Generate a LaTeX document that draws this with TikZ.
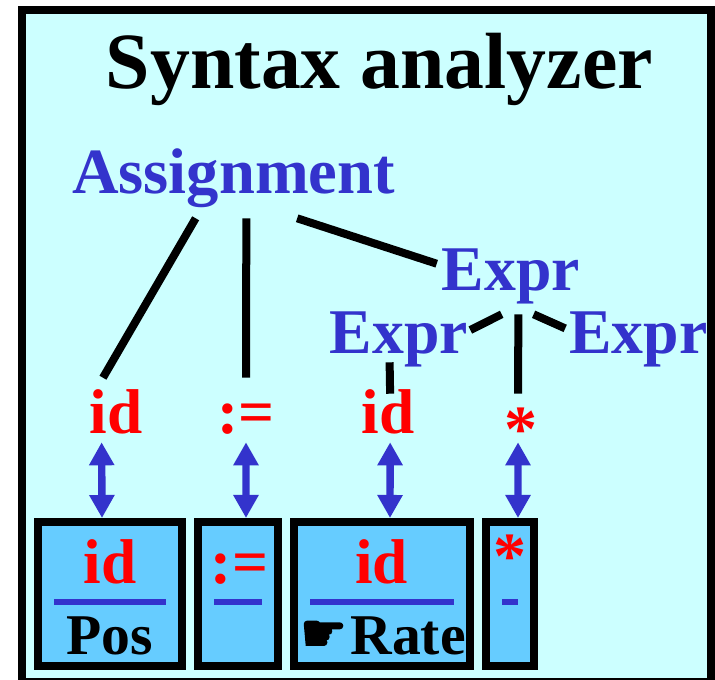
\documentclass[tikz,border=0pt]{standalone}
\usepackage{fontspec}
\setmainfont{Liberation Serif}
\newfontfamily\handfont[FakeBold=3]{DejaVu Sans}
\usepackage{xcolor}
\usepackage{tikz}
\usetikzlibrary{arrows.meta,positioning}
\definecolor{panelcyan}{HTML}{CCFFFF}
\definecolor{cellblue}{HTML}{66CCFF}
\definecolor{inkblue}{HTML}{3333CC}
\newcommand{\redfont}{\fontsize{45}{50}\selectfont\bfseries}

\begin{document}
\begin{tikzpicture}[
  x=0.025cm, y=-0.025cm,
  panel/.style={draw=black, fill=panelcyan, line width=0.2cm},
  heading/.style={anchor=base, inner sep=0pt, font=\fontsize{56.7}{60}\selectfont\bfseries},
  phrase/.style={anchor=base, inner ysep=0pt, text=inkblue, font=\fontsize{45.3}{50}\selectfont\bfseries},
  lexeme/.style={anchor=base, inner xsep=0pt, inner ysep=0pt, text=red, text depth=0.225cm, font=\redfont},
  cell/.style={draw=black, fill=cellblue, line width=0.2cm, minimum height=3.6cm, inner sep=0pt},
  celltext/.style={anchor=base, inner sep=0pt, font=\fontsize{41}{45}\selectfont\bfseries},
  redtext/.style={celltext, text=red, font=\redfont},
  bar/.style={fill=inkblue, minimum height=0.15cm, inner sep=0pt},
  edge/.style={line width=0.2cm},
  link/.style={{Triangle[length=0.575cm,width=0.6cm]}-{Triangle[length=0.575cm,width=0.6cm]}, line width=0.185cm, draw=inkblue}
]
\path[use as bounding box, clip] (0,0) rectangle (715,679);
\draw[panel] (22,10) rectangle (711,682);

\node[heading] (title) at (379.5,88) {Syntax analyzer};

\node[phrase, font=\fontsize{45.9}{50}\selectfont\bfseries, inner xsep=0pt, text height=1.125cm, text depth=0.625cm] (assign) at (233.5,193) {Assignment};
\node[phrase, inner xsep=0.125cm, text height=1.125cm, text depth=0.6cm] (exprT) at (511,290) {Expr};
\node[phrase, inner xsep=0.05cm, text height=1.125cm, text depth=0.225cm] (exprL) at (399,353) {Expr};
\node[phrase, inner xsep=0.1cm, text height=1.125cm, text depth=0.475cm] (exprR) at (638.5,353) {Expr};

\node[lexeme, text height=1.375cm] (tokA) at (116,433) {id};
\node[lexeme, text height=1.375cm] (tokB) at (246,433) {:=};
\node[lexeme, text height=0.975cm] (tokC) at (388,433) {id};
\node[lexeme, font=\fontsize{47}{50}\selectfont\bfseries, text height=1.2cm, text depth=0cm] (tokD) at (521,442) {\raisebox{-0.24cm}{*}};

\node[cell, minimum width=3.6cm] (boxA) at (110,594) {};
\node[cell, minimum width=2cm] (boxB) at (238,594) {};
\node[cell, minimum width=4.4cm] (boxC) at (382,594) {};
\node[cell, minimum width=1.2cm] (boxD) at (510,594) {};

\node[bar, minimum width=2.8cm] (barA) at (110,602) {};
\node[bar, minimum width=1.2cm] (barB) at (238,602) {};
\node[bar, minimum width=3.6cm] (barC) at (382,602) {};
\node[bar, minimum width=0.4cm] (barD) at (510,602) {};

\node[redtext] (idA) at (110,583) {id};
\node[redtext] (opB) at (239.5,583) {:=};
\node[redtext] (idC) at (381.5,583) {id};
\node[redtext, font=\fontsize{47}{50}\selectfont\bfseries] (opD) at (510,578) {*};
\node[celltext] (pos) at (110,654) {Pos};
\node[celltext] (rate) at (408,654) {Rate};
\node[celltext, font=\handfont\fontsize{37}{40}\selectfont] (hand) at (323.5,651) {☛};

\foreach \i/\j in {assign.223.8/tokA.112.1, assign.-70.3/tokB.north, assign.-29.6/exprT.168.8, exprT.255.4/exprL.4.8, exprT.-78.5/tokD.97.1, exprT.-57.5/exprR.171.4, exprL.251.6/tokC.85.2} {
  \draw[edge] (\i) -- (\j);
}
\foreach \i/\j in {tokA.246.4/boxA.96, tokB.south/boxB.84, tokC.-85.2/boxC.84, tokD.-97.1/boxD.84} {
  \draw[link] (\i) -- (\j);
}
\end{tikzpicture}
\end{document}
